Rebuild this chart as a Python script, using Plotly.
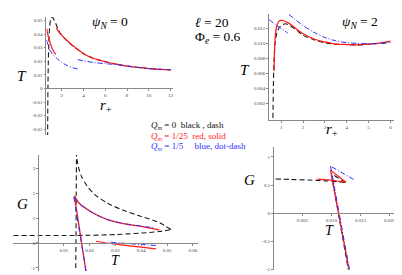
import plotly.graph_objects as go

W, H = 402, 275
def px(x): return x / W
def py(y): return 1 - y / H

# ---------------- data: top-left  T vs r+  (psi_N = 0) ----------------
tl_black_r = [0.69, 0.70, 0.72, 0.75, 0.80, 0.87, 0.95, 1.05, 1.15, 1.3, 1.5, 1.7, 2.0, 2.5, 3.0, 4.0, 5.0, 6.0, 7.0, 8.0, 10.0, 12.0]
tl_black_T = [-0.036, -0.02, 0.0, 0.018, 0.033, 0.0445, 0.050, 0.0522, 0.0522, 0.050, 0.0465, 0.0425, 0.0390, 0.0348, 0.0312, 0.0255, 0.0218, 0.0197, 0.0178, 0.0164, 0.0146, 0.0136]
tl_red1_r = [0.60, 0.70, 0.80, 0.90, 1.0, 1.1, 1.2, 1.3, 1.45]
tl_red1_T = [0.0440, 0.0400, 0.0368, 0.0340, 0.0316, 0.0296, 0.0280, 0.0265, 0.0250]
tl_red2_r = [1.48, 1.7, 2.0, 2.5, 3.0, 3.5, 4.0, 5.0, 6.0, 7.0, 8.0, 9.0, 10.0, 11.0, 12.0]
tl_red2_T = [0.0445, 0.0418, 0.0390, 0.0350, 0.0315, 0.0285, 0.0255, 0.0218, 0.0196, 0.0178, 0.0164, 0.0154, 0.0146, 0.0140, 0.0136]
tl_blue1_r = [0.60, 0.70, 0.80, 1.0, 1.2, 1.48, 2.0, 2.5, 3.0, 3.47]
tl_blue1_T = [0.0355, 0.0325, 0.0300, 0.0268, 0.0246, 0.0225, 0.0190, 0.0168, 0.0152, 0.0142]
tl_blue2_r = [3.47, 4.0, 5.0, 6.0, 7.0, 8.0, 9.0, 10.0, 11.0, 12.0]
tl_blue2_T = [0.0212, 0.0203, 0.0190, 0.0182, 0.0175, 0.0164, 0.0154, 0.0146, 0.0141, 0.0138]

# ---------------- data: top-right  T vs r+  (psi_N = 2) ----------------
tr_black_r = [0.62, 0.64, 0.67, 0.72, 0.80, 0.90, 1.0, 1.2, 1.4, 1.7, 2.0, 2.5, 3.0, 3.5, 4.0, 4.5, 5.0, 5.5, 6.0]
tr_black_T = [0.0, 0.0040, 0.0075, 0.0100, 0.0114, 0.0121, 0.0124, 0.01265, 0.0124, 0.0118, 0.0111, 0.0105, 0.0101, 0.0099, 0.00985, 0.0098, 0.0099, 0.0100, 0.0101]
tr_red_r = [0.67, 0.70, 0.75, 0.80, 0.90, 1.0, 1.1, 1.3, 1.5, 1.8, 2.0, 2.5, 3.0, 3.5, 4.0, 4.5, 5.0, 5.5, 6.0]
tr_red_T = [0.0063, 0.0095, 0.0116, 0.0124, 0.0130, 0.0131, 0.01305, 0.0128, 0.0124, 0.0117, 0.0113, 0.0106, 0.0102, 0.0099, 0.00985, 0.0098, 0.0099, 0.01005, 0.0103]
tr_blue1_r = [0.45, 0.70, 1.0, 1.3]
tr_blue1_T = [0.0132, 0.0126, 0.0120, 0.0114]
tr_blue2_r = [1.35, 1.6, 2.0, 2.5, 3.0, 3.5, 4.0, 4.5, 5.0, 5.5, 6.0]
tr_blue2_T = [0.0139, 0.0133, 0.0124, 0.0115, 0.0108, 0.01035, 0.0101, 0.0100, 0.00995, 0.0100, 0.0102]

# ---------------- data: bottom-left  G vs T  (psi_N = 0) ----------------
bl_black_low_T = [-0.0095, 0.0, 0.01, 0.02, 0.03, 0.04, 0.047, 0.0515]
bl_black_low_G = [0.30, 0.30, 0.30, 0.31, 0.34, 0.40, 0.46, 0.54]
bl_black_up_T = [0.0515, 0.047, 0.040, 0.033, 0.027, 0.022, 0.019, 0.017, 0.0158, 0.0152, 0.0149, 0.0149]
bl_black_up_G = [0.54, 0.82, 1.07, 1.32, 1.60, 1.95, 2.30, 2.65, 3.00, 3.30, 3.60, 3.70]
bl_black_v_T = [0.0149, 0.0148, 0.0147, 0.0146]
bl_black_v_G = [3.70, 2.0, 0.0, -1.2]
bl_red_up_T = [0.0141, 0.016, 0.0193, 0.023, 0.027, 0.033, 0.0399, 0.0445, 0.047]
bl_red_up_G = [1.90, 1.60, 1.34, 1.12, 0.94, 0.78, 0.67, 0.58, 0.53]
bl_red_st_T = [0.0141, 0.0186]
bl_red_st_G = [1.90, -1.15]
bl_red_lo_T = [0.0225, 0.028, 0.034, 0.040, 0.0457]
bl_red_lo_G = [0.07, -0.02, -0.10, -0.17, -0.24]
bl_blue_up_T = [0.0139, 0.016, 0.0193, 0.023, 0.027, 0.033, 0.0399, 0.0455]
bl_blue_up_G = [1.85, 1.58, 1.33, 1.12, 0.94, 0.79, 0.68, 0.60]
bl_blue_st_T = [0.0139, 0.0186]
bl_blue_st_G = [1.85, -1.15]
bl_blue_lo_T = [0.0283, 0.034, 0.040, 0.0457]
bl_blue_lo_G = [0.03, -0.02, -0.06, -0.10]

# ---------------- data: bottom-right  G vs T  (psi_N = 2) ----------------
br_black_h_T = [0.0004, 0.003, 0.006, 0.009, 0.011, 0.0124]
br_black_h_G = [0.607, 0.600, 0.590, 0.575, 0.560, 0.547]
br_black_m_T = [0.0124, 0.0100]
br_black_m_G = [0.547, 0.700]
br_black_s_T = [0.0100, 0.0129]
br_black_s_G = [0.700, -1.0]
br_red_h_T = [0.0076, 0.0095, 0.0110, 0.0125]
br_red_h_G = [0.607, 0.590, 0.572, 0.550]
br_red_m_T = [0.0125, 0.00985]
br_red_m_G = [0.550, 0.765]
br_red_s_T = [0.00985, 0.0130]
br_red_s_G = [0.765, -1.0]
br_blue_m_T = [0.0138, 0.00985]
br_blue_m_G = [0.600, 0.836]
br_blue_s_T = [0.00985, 0.0131]
br_blue_s_G = [0.836, -1.0]

# ---------------- tick labels ----------------
tl_xt = [2, 4, 6, 8, 10, 12]
tl_xl = ["2", "4", "6", "8", "10", "12"]
tl_yt = [-0.03, -0.02, -0.01, 0, 0.01, 0.02, 0.03, 0.04, 0.05]
tl_yl = ["-0.03", "-0.02", "-0.01", "0", "0.01", "0.02", "0.03", "0.04", "0.05"]
tr_xt = [1, 2, 3, 4, 5, 6]
tr_xl = ["1", "2", "3", "4", "5", "6"]
tr_yt = [0.002, 0.004, 0.006, 0.008, 0.010, 0.012]
tr_yl = ["0.002", "0.004", "0.006", "0.008", "0.010", "0.012"]
bl_xt = [0.01, 0.02, 0.03, 0.04, 0.05, 0.06]
bl_xl = ["0.01", "0.02", "0.03", "0.04", "0.05", "0.06"]
bl_yt = [-1, 0, 1, 2, 3]
bl_yl = ["-1", "0", "1", "2", "3"]
br_xt = [0.005, 0.010, 0.015, 0.020]
br_xl = ["0.005", "0.010", "0.015", "0.020"]
br_yt = [-1, -0.5, 0, 0.5, 1]
br_yl = ["-1", "-0.5", "0", "0.5", "1"]

BLACK = dict(color="#1a1a1a", width=1.1, dash="5px,3px")
RED = dict(color="#ff1a1a", width=1.25)
BLUE = dict(color="#2a2aff", width=1.0, dash="5px,2px,1px,2px")

fig = go.Figure()

def add(xs, ys, style, ax):
    xa, ya = ax
    fig.add_trace(go.Scatter(x=xs, y=ys, mode="lines", line=dict(shape="spline", smoothing=0.8, **style),
                             xaxis=xa, yaxis=ya, showlegend=False, hoverinfo="skip"))

# TL
add(tl_black_r, tl_black_T, BLACK, ("x", "y"))
add(tl_red1_r, tl_red1_T, RED, ("x", "y"))
add(tl_red2_r, tl_red2_T, RED, ("x", "y"))
add(tl_blue1_r, tl_blue1_T, BLUE, ("x", "y"))
add(tl_blue2_r, tl_blue2_T, BLUE, ("x", "y"))
# TR
add(tr_black_r, tr_black_T, BLACK, ("x2", "y2"))
add(tr_red_r, tr_red_T, RED, ("x2", "y2"))
add(tr_blue1_r, tr_blue1_T, BLUE, ("x2", "y2"))
add(tr_blue2_r, tr_blue2_T, BLUE, ("x2", "y2"))
# BL
add(bl_black_low_T, bl_black_low_G, BLACK, ("x3", "y3"))
add(bl_black_up_T, bl_black_up_G, BLACK, ("x3", "y3"))
add(bl_black_v_T, bl_black_v_G, BLACK, ("x3", "y3"))
add(bl_red_up_T, bl_red_up_G, RED, ("x3", "y3"))
add(bl_red_st_T, bl_red_st_G, RED, ("x3", "y3"))
add(bl_red_lo_T, bl_red_lo_G, RED, ("x3", "y3"))
add(bl_blue_up_T, bl_blue_up_G, BLUE, ("x3", "y3"))
add(bl_blue_st_T, bl_blue_st_G, BLUE, ("x3", "y3"))
add(bl_blue_lo_T, bl_blue_lo_G, BLUE, ("x3", "y3"))
# BR
add(br_black_h_T, br_black_h_G, BLACK, ("x4", "y4"))
add(br_black_m_T, br_black_m_G, BLACK, ("x4", "y4"))
add(br_black_s_T, br_black_s_G, BLACK, ("x4", "y4"))
add(br_red_h_T, br_red_h_G, RED, ("x4", "y4"))
add(br_red_m_T, br_red_m_G, RED, ("x4", "y4"))
add(br_red_s_T, br_red_s_G, RED, ("x4", "y4"))
add(br_blue_m_T, br_blue_m_G, BLUE, ("x4", "y4"))
add(br_blue_s_T, br_blue_s_G, BLUE, ("x4", "y4"))

SERIF = "Liberation Serif, Times New Roman, DejaVu Serif, serif"
TICKFONT = dict(family=SERIF, size=5, color="#444")
def axis(domain, rng, tv, tt, **kw):
    d = dict(domain=domain, range=rng, tickvals=tv, ticktext=tt, showgrid=False, zeroline=False,
             showline=True, linecolor="#888", linewidth=0.8, ticks="outside", ticklen=2,
             tickcolor="#888", tickwidth=0.6, tickfont=TICKFONT, fixedrange=True)
    d.update(kw)
    return d

# pixel <-> data mappings
def tl_r(x): return (x - 32.2) / 10.9
def tl_T(y): return (81 - y) / 1370
def tr_r(x): return (x - 252) / 21.9
def tr_T(y): return (110.7 - y) / 7500
def bl_T(x): return (x - 30.1) / 2587
def bl_G(y): return (236.7 - y) / 25
def br_T(x): return (x - 265.8) / 5840
def br_G(y): return (206.7 - y) / 56.7

fig.update_layout(
    width=W, height=H, margin=dict(l=0, r=0, t=0, b=0),
    paper_bgcolor="white", plot_bgcolor="rgba(0,0,0,0)",
    xaxis=axis([px(38.5), px(165.5)], [tl_r(38.5), tl_r(165.5)], tl_xt, tl_xl, anchor="free", position=py(81)),
    yaxis=axis([py(128), py(9)], [tl_T(128), tl_T(9)], tl_yt, tl_yl, anchor="x"),
    xaxis2=axis([px(261.7), px(386.5)], [tr_r(261.7), tr_r(386.5)], tr_xt, tr_xl, anchor="y2"),
    yaxis2=axis([py(112.7), py(6)], [tr_T(112.7), tr_T(6)], tr_yt, tr_yl, anchor="x2"),
    xaxis3=axis([px(5), px(190)], [bl_T(5), bl_T(190)], bl_xt, bl_xl, anchor="free", position=py(236.7)),
    yaxis3=axis([py(265), py(148)], [bl_G(265), bl_G(148)], bl_yt, bl_yl, anchor="free", position=px(30.1)),
    xaxis4=axis([px(266.5), px(388)], [br_T(266.5), br_T(388)], br_xt, br_xl, anchor="free", position=py(206.7)),
    yaxis4=axis([py(264), py(140)], [br_G(264), br_G(140)], br_yt, br_yl, anchor="x4"),
)

def text(x, y, s, size=13, color="black", xanchor="center"):
    fig.add_annotation(x=px(x), y=py(y), xref="paper", yref="paper", text=s, showarrow=False,
                       xanchor=xanchor, yanchor="middle", font=dict(family=SERIF, size=size, color=color))

text(102.5, 15, "<i>ψ</i><sub><i>N</i></sub> = 0", 13.5)
text(352.5, 15, "<i>ψ</i><sub><i>N</i></sub> = 2", 13.5)
text(185, 15, "<i>ℓ</i> = 20", 13.5, xanchor="left")
text(185, 30, "Φ<sub><i>e</i></sub> = 0.6", 13.5, xanchor="left")
text(141.5, 118.5, "<i>Q<sub>m</sub></i> = 0  black , dash", 9, "#111111", "left")
text(141.5, 129.5, "<i>Q<sub>m</sub></i> = 1/25  red, solid", 9, "#ff2020", "left")
text(141.5, 140, "<i>Q<sub>m</sub></i> = 1/5     blue, dot-dash", 9, "#3030ff", "left")

text(14, 68, "<i>T</i>", 15)
text(98, 99, "<i>r</i><sub>+</sub>", 15)
text(238, 62, "<i>T</i>", 15)
text(325, 123, "<i>r</i><sub>+</sub>", 15)
text(15, 197, "<i>G</i>", 15)
text(108, 254, "<i>T</i>", 14)
text(242, 173, "<i>G</i>", 15)
text(322, 224, "<i>T</i>", 14)

fig.write_html("out.html")
